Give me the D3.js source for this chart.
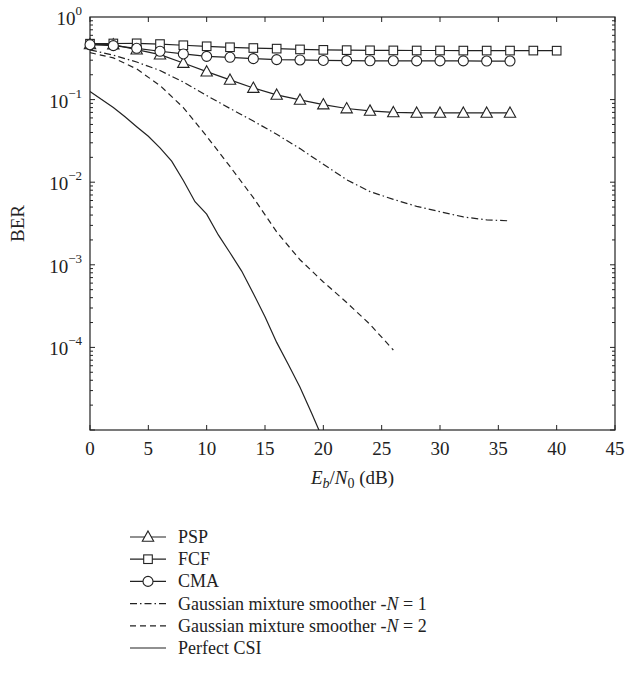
<!DOCTYPE html>
<html>
<head>
<meta charset="utf-8">
<script src="https://cdn.jsdelivr.net/npm/d3@7"></script>
<style>
  body { margin: 0; background: #fff; }
  svg { font-family: "Liberation Serif", "Times New Roman", serif; }
</style>
</head>
<body>
<div id="chart"></div>
<script>
// BER vs Eb/N0 curves

const width = 626, height = 673;
const margin = { top: 17, right: 11, bottom: 243, left: 90 };
const innerW = width - margin.left - margin.right;
const innerH = height - margin.top - margin.bottom;

// data
const xTicks = [0, 5, 10, 15, 20, 25, 30, 35, 40, 45];
const yTickExps = [0, -1, -2, -3, -4];

const pspX = [0, 2, 4, 6, 8, 10, 12, 14, 16, 18, 20, 22, 24, 26, 28, 30, 32, 34, 36];
const pspY = [0.465, 0.462, 0.402, 0.35, 0.277, 0.218, 0.173, 0.138, 0.114, 0.099, 0.087, 0.078, 0.073, 0.070, 0.069, 0.069, 0.069, 0.069, 0.069];

const fcfX = [0, 2, 4, 6, 8, 10, 12, 14, 16, 18, 20, 22, 24, 26, 28, 30, 32, 34, 36, 38, 40];
const fcfY = [0.475, 0.478, 0.48, 0.47, 0.455, 0.442, 0.43, 0.421, 0.414, 0.405, 0.400, 0.397, 0.395, 0.394, 0.393, 0.393, 0.392, 0.392, 0.392, 0.392, 0.391];

const cmaX = [0, 2, 4, 6, 8, 10, 12, 14, 16, 18, 20, 22, 24, 26, 28, 30, 32, 34, 36];
const cmaY = [0.462, 0.45, 0.418, 0.385, 0.357, 0.334, 0.325, 0.313, 0.305, 0.302, 0.298, 0.296, 0.295, 0.295, 0.294, 0.294, 0.294, 0.293, 0.293];

const gm1X = [0, 2, 4, 6, 8, 10, 12, 14, 16, 18, 20, 22, 24, 26, 28, 30, 32, 34, 36];
const gm1Y = [0.40, 0.345, 0.285, 0.225, 0.163, 0.112, 0.078, 0.055, 0.038, 0.0255, 0.0165, 0.0107, 0.0077, 0.0062, 0.0051, 0.0044, 0.0038, 0.0035, 0.0034];

const gm2X = [0, 2, 4, 6, 8, 10, 12, 14, 16, 18, 20, 22, 24, 26];
const gm2Y = [0.37, 0.32, 0.235, 0.148, 0.080, 0.036, 0.0155, 0.0065, 0.0025, 0.00115, 0.00062, 0.00035, 0.00019, 0.000093];

const csiX = [0, 1, 2, 3, 4, 5, 6, 7, 8, 9, 10, 11, 12, 13, 14, 15, 16, 17, 18, 19, 20];
const csiY = [0.125, 0.1, 0.08, 0.062, 0.047, 0.036, 0.026, 0.018, 0.0105, 0.0058, 0.0041, 0.0023, 0.0014, 0.00084, 0.00045, 0.000235, 0.000115, 0.000062, 0.000033, 0.000016, 0.0000075];

const series = [
  { name: "PSP", xs: pspX, ys: pspY, marker: "triangle", dash: null },
  { name: "FCF", xs: fcfX, ys: fcfY, marker: "square", dash: null },
  { name: "CMA", xs: cmaX, ys: cmaY, marker: "circle", dash: null },
  { name: "gm1", xs: gm1X, ys: gm1Y, marker: null, dash: "7,3,1.5,3" },
  { name: "gm2", xs: gm2X, ys: gm2Y, marker: null, dash: "6,4" },
  { name: "csi", xs: csiX, ys: csiY, marker: null, dash: null }
];

const svg = d3.select("#chart").append("svg")
  .attr("width", width)
  .attr("height", height);

const g = svg.append("g")
  .attr("transform", `translate(${margin.left},${margin.top})`);

const x = d3.scaleLinear().domain([0, 45]).range([0, innerW]);
const y = d3.scaleLog().domain([1e-5, 1]).range([innerH, 0]);

g.append("clipPath").attr("id", "clip")
  .append("rect").attr("width", innerW).attr("height", innerH);

// frame
g.append("rect")
  .attr("width", innerW).attr("height", innerH)
  .attr("fill", "none").attr("stroke", "#222").attr("stroke-width", 1.2);

const tickCol = "#222";

// x ticks bottom + top (inward)
xTicks.forEach(t => {
  const px = x(t);
  g.append("line").attr("x1", px).attr("x2", px).attr("y1", innerH).attr("y2", innerH - 5)
    .attr("stroke", tickCol);
  g.append("line").attr("x1", px).attr("x2", px).attr("y1", 0).attr("y2", 5)
    .attr("stroke", tickCol);
  g.append("text").attr("x", px).attr("y", innerH + 25)
    .attr("text-anchor", "middle").attr("font-size", 19).attr("fill", "#222")
    .text(t);
});

// y ticks, major and minor, both sides
for (let e = -5; e < 0; e++) {
  for (let m = 1; m <= 9; m++) {
    const v = m * Math.pow(10, e);
    const py = y(v);
    const len = m === 1 ? 5 : 3;
    g.append("line").attr("x1", 0).attr("x2", len).attr("y1", py).attr("y2", py).attr("stroke", tickCol);
    g.append("line").attr("x1", innerW).attr("x2", innerW - len).attr("y1", py).attr("y2", py).attr("stroke", tickCol);
  }
}

yTickExps.forEach(e => {
  const py = y(Math.pow(10, e));
  const t = g.append("text").attr("x", -8).attr("y", py + 8)
    .attr("text-anchor", "end").attr("font-size", 19).attr("fill", "#222");
  t.append("tspan").text("10");
  t.append("tspan").attr("dy", -10).attr("font-size", 13)
    .text(e === 0 ? "0" : "\u2212" + (-e));
});

// axis titles
const xl = svg.append("text")
  .attr("x", margin.left + innerW / 2).attr("y", 484)
  .attr("text-anchor", "middle").attr("font-size", 19).attr("fill", "#222");
xl.append("tspan").attr("font-style", "italic").text("E");
xl.append("tspan").attr("font-style", "italic").attr("font-size", 14).attr("dy", 4).text("b");
xl.append("tspan").attr("dy", -4).text("/");
xl.append("tspan").attr("font-style", "italic").text("N");
xl.append("tspan").attr("font-size", 14).attr("dy", 4).text("0");
xl.append("tspan").attr("dy", -4).text(" (dB)");

svg.append("text")
  .attr("transform", `translate(24,${margin.top + innerH / 2}) rotate(-90)`)
  .attr("text-anchor", "middle").attr("font-size", 19).attr("fill", "#222")
  .text("BER");

// markers
function drawMarker(sel, type, cx, cy) {
  if (type === "triangle") {
    const s = 6;
    sel.append("path")
      .attr("d", `M${cx},${cy - s} L${cx + s * 0.95},${cy + s * 0.72} L${cx - s * 0.95},${cy + s * 0.72} Z`)
      .attr("fill", "#fff").attr("stroke", "#222").attr("stroke-width", 1.1);
  } else if (type === "square") {
    const s = 4.3;
    sel.append("rect").attr("x", cx - s).attr("y", cy - s).attr("width", 2 * s).attr("height", 2 * s)
      .attr("fill", "#fff").attr("stroke", "#222").attr("stroke-width", 1.1);
  } else if (type === "circle") {
    sel.append("circle").attr("cx", cx).attr("cy", cy).attr("r", 5)
      .attr("fill", "#fff").attr("stroke", "#222").attr("stroke-width", 1.1);
  }
}

const line = d3.line().x(d => x(d[0])).y(d => y(d[1]));
const plot = g.append("g").attr("clip-path", "url(#clip)");

series.slice().reverse().forEach(s => {
  const pts = s.xs.map((v, i) => [v, s.ys[i]]);
  plot.append("path").datum(pts)
    .attr("d", line)
    .attr("fill", "none").attr("stroke", "#222").attr("stroke-width", 1.2)
    .attr("stroke-dasharray", s.dash);
});
series.forEach(s => {
  if (!s.marker) return;
  const mg = g.append("g");
  s.xs.forEach((v, i) => drawMarker(mg, s.marker, x(v), y(s.ys[i])));
});

// legend
const legendItems = [
  { label: ["PSP"], marker: "triangle", dash: null },
  { label: ["FCF"], marker: "square", dash: null },
  { label: ["CMA"], marker: "circle", dash: null },
  { label: ["Gaussian mixture smoother -", "N", " = 1"], marker: null, dash: "7,3,1.5,3" },
  { label: ["Gaussian mixture smoother -", "N", " = 2"], marker: null, dash: "6,4" },
  { label: ["Perfect CSI"], marker: null, dash: null }
];
const lg = svg.append("g").attr("transform", "translate(130,537)");
legendItems.forEach((d, i) => {
  const ly = i * 22.2;
  lg.append("line").attr("x1", 0).attr("x2", 36).attr("y1", ly).attr("y2", ly)
    .attr("stroke", "#222").attr("stroke-width", 1.2).attr("stroke-dasharray", d.dash);
  if (d.marker) drawMarker(lg, d.marker, 18, ly);
  const t = lg.append("text").attr("x", 48).attr("y", ly + 6)
    .attr("font-size", 18).attr("fill", "#222")
    .attr("xml:space", "preserve");
  d.label.forEach((part, j) => {
    t.append("tspan").attr("font-style", j === 1 ? "italic" : null).text(part);
  });
});
</script>
</body>
</html>
